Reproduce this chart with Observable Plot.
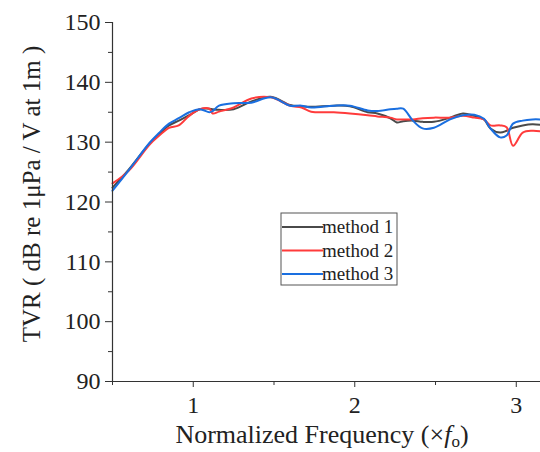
<!DOCTYPE html>
<html><head><meta charset="utf-8">
<script src="https://cdn.jsdelivr.net/npm/d3@7"></script>
<script src="https://cdn.jsdelivr.net/npm/@observablehq/plot@0.6"></script>
<style>body{margin:0;background:#fff}</style>
</head><body><div id="chart"></div>
<script>
const freq = [0.5, 0.6, 0.73, 0.79, 0.85, 0.91, 0.975, 1.04, 1.1, 1.12, 1.16, 1.25, 1.36, 1.48, 1.6, 1.67, 1.73, 1.87, 1.97, 2.08, 2.14, 2.22, 2.26, 2.3, 2.36, 2.42, 2.49, 2.59, 2.67, 2.74, 2.8, 2.84, 2.9, 2.94, 2.98, 3.04, 3.1, 3.15];
const method1 = [122.4, 125.4, 129.8, 131.4, 132.8, 133.6, 134.5, 135.5, 135.6, 135.5, 135.4, 135.5, 136.8, 137.6, 136.2, 136.0, 135.9, 136.1, 136.0, 135.0, 134.8, 134.0, 133.3, 133.5, 133.6, 133.4, 133.4, 134.1, 134.8, 134.4, 133.8, 132.3, 131.6, 131.9, 132.4, 132.8, 133.0, 132.9];
const method2 = [123.1, 125.2, 129.6, 131.1, 132.4, 132.8, 134.4, 135.5, 135.6, 134.8, 135.1, 135.8, 137.3, 137.5, 136.1, 135.8, 135.1, 135.0, 134.8, 134.5, 134.3, 134.1, 133.8, 133.8, 133.8, 134.0, 134.1, 134.1, 134.4, 134.1, 133.8, 132.8, 132.8, 132.5, 129.4, 131.6, 131.9, 131.8];
const method3 = [121.9, 125.3, 129.9, 131.6, 133.1, 134.0, 135.0, 135.5, 135.0, 135.2, 136.1, 136.5, 136.6, 137.5, 136.1, 136.1, 135.8, 136.1, 136.1, 135.3, 135.2, 135.5, 135.6, 135.6, 133.6, 132.3, 132.4, 133.8, 134.5, 134.6, 133.9, 132.3, 130.8, 131.1, 133.1, 133.6, 133.8, 133.8];
const seriesNames = ["method 1", "method 2", "method 3"];
const seriesColors = ["#4a4a4a", "#ff3b3b", "#1a6fe0"];
const yTicks = [90, 100, 110, 120, 130, 140, 150];
const yMinor = [95, 105, 115, 125, 135, 145];
const xTicks = [1, 2, 3];
const xMinor = [0.5, 1.5, 2.5];
const yLabel = "TVR ( dB re 1μPa / V at 1m )";
const xLabelMain = "Normalized Frequency (×";

const rows = [];
[method1, method2, method3].forEach((arr, i) =>
  arr.forEach((v, j) => rows.push({f: freq[j], tvr: v, series: seriesNames[i]})));

const ff = "Liberation Serif";
const axisColor = "#333";
const plot = Plot.plot({
  width: 540, height: 452,
  marginLeft: 112, marginRight: 0, marginTop: 22, marginBottom: 71,
  style: {fontFamily: ff, fontSize: "24px", color: "#222", background: "#fff"},
  x: {domain: [0.5, 3.15]},
  y: {domain: [90, 150]},
  color: {domain: seriesNames, range: seriesColors},
  marks: [
    Plot.line(rows, {x: "f", y: "tvr", stroke: "series", z: "series", strokeWidth: 2, curve: "catmull-rom"}),
    Plot.ruleX([0.5], {stroke: axisColor, strokeWidth: 1.2}),
    Plot.ruleY([90], {stroke: axisColor, strokeWidth: 1.2}),
    Plot.axisY({ticks: yTicks, tickSize: 7, tickPadding: 5, label: null, stroke: axisColor, fontSize: 24}),
    Plot.axisY({ticks: yMinor, tickSize: 4, text: null, label: null, stroke: axisColor}),
    Plot.axisX({ticks: xTicks, tickSize: 6, tickPadding: 8, label: null, stroke: axisColor, fontSize: 24, tickFormat: d3.format("d")}),
    Plot.axisX({ticks: xMinor, tickSize: 4, text: null, label: null, stroke: axisColor})
  ]
});

const svg = d3.select(plot);
// y label
svg.append("text")
  .attr("transform", "translate(40,194) rotate(-90)")
  .attr("text-anchor", "middle")
  .attr("font-family", ff).attr("font-size", 25).attr("fill", "#222")
  .text(yLabel);
// x label
const xl = svg.append("text")
  .attr("x", 322).attr("y", 443)
  .attr("text-anchor", "middle")
  .attr("font-family", ff).attr("font-size", 26).attr("fill", "#222");
xl.append("tspan").text(xLabelMain);
xl.append("tspan").attr("font-style", "italic").text("f");
xl.append("tspan").attr("font-size", 17).attr("dy", 4).text("o");
xl.append("tspan").attr("dy", -4).text(")");

// legend
const lg = svg.append("g").attr("transform", "translate(281,213)");
lg.append("rect").attr("width", 116).attr("height", 72)
  .attr("fill", "#fff").attr("stroke", "#555").attr("stroke-width", 1);
seriesNames.forEach((name, i) => {
  const y = 14 + i * 23.5;
  lg.append("line").attr("x1", 1).attr("x2", 42).attr("y1", y).attr("y2", y)
    .attr("stroke", seriesColors[i]).attr("stroke-width", 2);
  lg.append("text").attr("x", 41).attr("y", y + 6)
    .attr("text-anchor", "start")
    .attr("font-family", ff).attr("font-size", 19).attr("fill", "#222").text(name);
});

document.getElementById("chart").appendChild(plot);
</script>
</body></html>
